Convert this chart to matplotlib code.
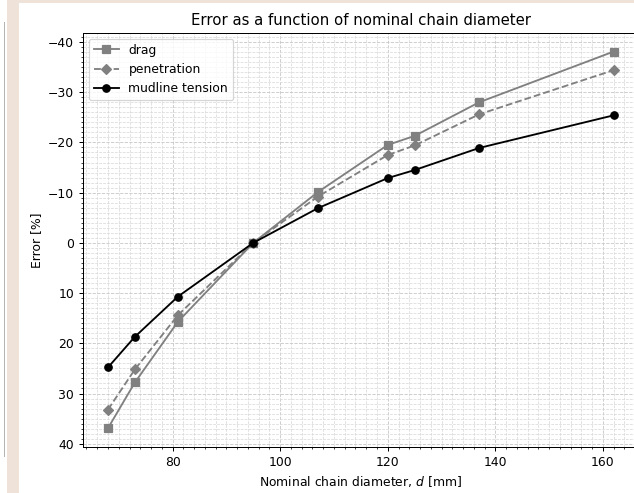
import matplotlib
matplotlib.use('Agg')
import matplotlib.pyplot as plt
from matplotlib.patches import Rectangle
from matplotlib.ticker import AutoMinorLocator

# nominal chain diameters [mm]
diameter = [68, 73, 81, 95, 107, 120, 125, 137, 162]

# error [%] relative to the 95 mm chain
err_drag = [36.9, 27.8, 15.7, 0.0, -10.1, -19.5, -21.3, -28.0, -38.1]
err_penetration = [33.2, 25.2, 14.4, 0.0, -9.2, -17.5, -19.4, -25.6, -34.4]
err_mudline = [24.8, 18.7, 10.7, 0.0, -6.9, -12.9, -14.5, -18.9, -25.4]

W, H = 634, 493
DPI = 89
fig = plt.figure(figsize=(W / DPI, H / DPI), dpi=DPI)

# notebook screenshot frame: beige gutter and thin side rule
beige = '#efe3d9'
fig.add_artist(Rectangle((7 / W, 0), 12 / W, 1, transform=fig.transFigure,
                         color=beige, lw=0, zorder=0))
fig.add_artist(Rectangle((7 / W, 1 - 3.5 / H), 1, 3.5 / H, transform=fig.transFigure,
                         color=beige, lw=0, zorder=0))
fig.add_artist(Rectangle((3.5 / W, 1 - 457 / H), 1.2 / W, 435 / H, transform=fig.transFigure,
                         color='#b4b4b4', lw=0, zorder=0))

# axes runs past the right edge (cropped screenshot)
ax = fig.add_axes([82.7 / W, 1 - 447 / H, (639 - 82.7) / W, (447 - 32.7) / H])

ax.plot(diameter, err_drag, color='gray', marker='s', label='drag')
ax.plot(diameter, err_penetration, color='gray', marker='D', linestyle='--', label='penetration')
ax.plot(diameter, err_mudline, color='black', marker='o', label='mudline tension')

ax.invert_yaxis()
ax.xaxis.set_minor_locator(AutoMinorLocator(10))
ax.yaxis.set_minor_locator(AutoMinorLocator(10))
ax.grid(which='major', color='#c8c8c8', linestyle='--', linewidth=0.7)
ax.grid(which='minor', color='#d8d8d8', linestyle='--', linewidth=0.6)
ax.set_axisbelow(True)

ax.set_xlabel('Nominal chain diameter, $d$ [mm]')
ax.set_ylabel('Error [%]')
ax.set_title('Error as a function of nominal chain diameter')
ax.legend(loc='upper left')

fig.savefig('out.png', dpi=DPI)
